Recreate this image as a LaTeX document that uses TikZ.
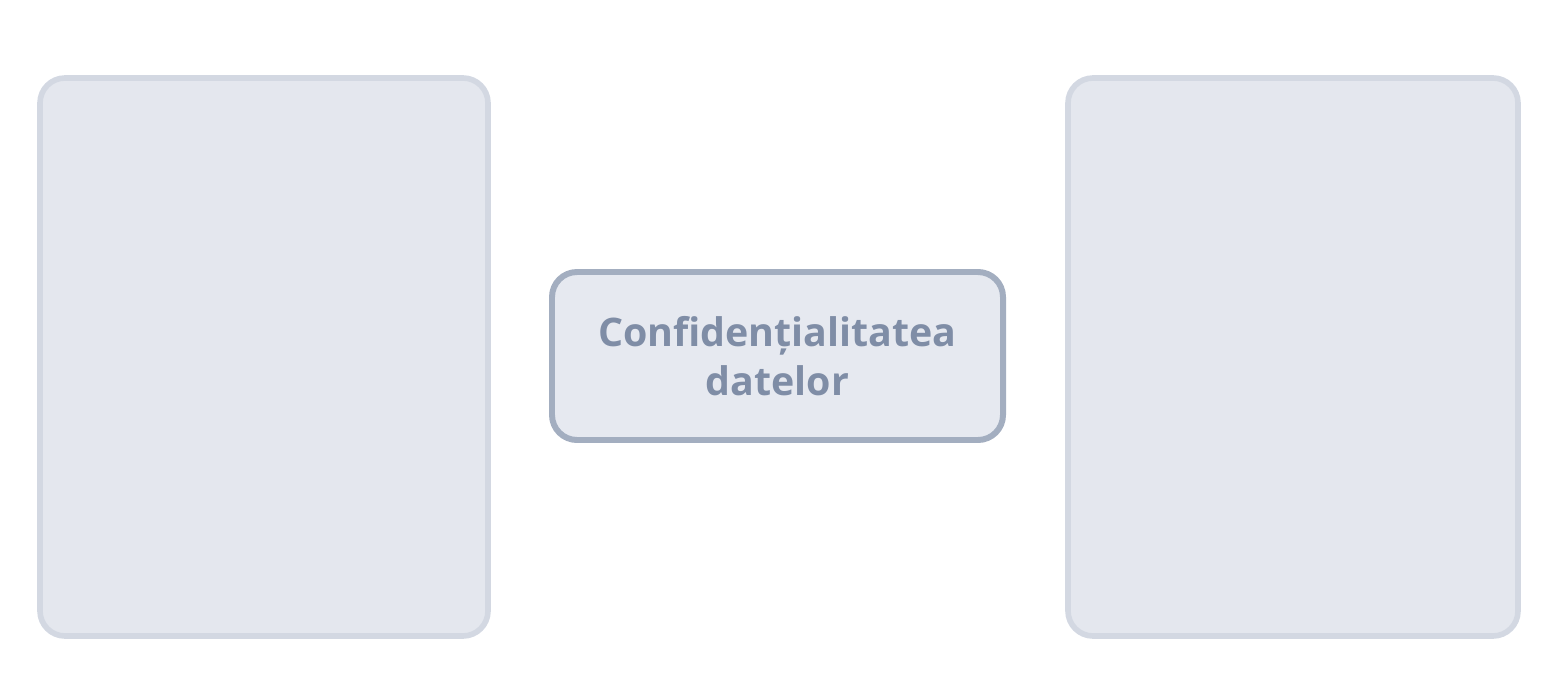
\documentclass[tikz,border=0pt]{standalone}
\usepackage{fontspec}
\setmainfont{Open Sans}
\usepackage{xcolor}
\usetikzlibrary{positioning}

\definecolor{paneFill}{HTML}{E4E7EE}
\definecolor{paneLine}{HTML}{D3D8E2}
\definecolor{topicFill}{HTML}{E6E9F0}
\definecolor{topicLine}{HTML}{A3AEC0}
\definecolor{topicText}{HTML}{7F8DA6}

\tikzset{
  pane/.style={draw=paneLine, fill=paneFill, line width=3.2pt,
    rounded corners=0.5cm, inner sep=0pt, outer sep=0pt,
    minimum height=11.16cm},
  topic/.style={draw=topicLine, fill=topicFill, line width=3.4pt,
    rounded corners=0.5cm, inner sep=0pt, outer sep=0pt,
    minimum width=9.02cm, minimum height=3.36cm,
    text=topicText, font=\bfseries\fontsize{22.4}{28}\selectfont,
    align=center}
}

\begin{document}
\begin{tikzpicture}
  \useasboundingbox (0,0) rectangle (31.06,13.44);

  \node[pane, minimum width=8.96cm] (leftPane) at (5.28,6.30) {};
  \node[pane, minimum width=9.0cm] (rightPane) at (25.86,6.30) {};

  \node[topic] (dataPrivacy) at (15.55,6.32) {Confidențialitatea\\datelor};
\end{tikzpicture}
\end{document}
